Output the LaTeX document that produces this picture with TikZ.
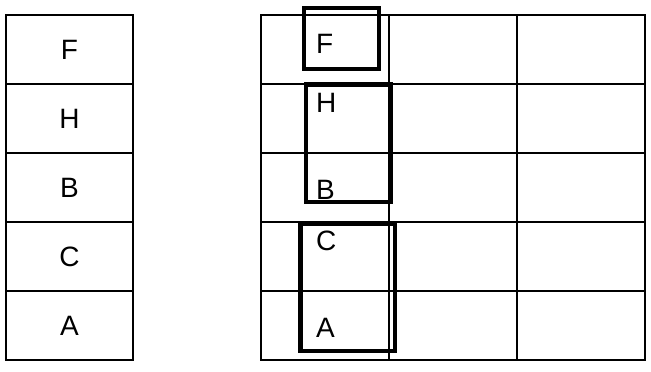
\documentclass[tikz,border=0pt]{standalone}
\usepackage{fontspec}
\setmainfont{Liberation Sans}
\usetikzlibrary{positioning}

\tikzset{
  cell/.style={draw,line width=2pt,minimum width=127pt,minimum height=69pt,
    inner sep=0pt,outer sep=0pt,font=\fontsize{28}{30}\selectfont},
  tag/.style={anchor=base west,inner sep=0pt,font=\fontsize{28}{30}\selectfont},
  frame/.style={line width=4.5pt}
}

\begin{document}
\begin{tikzpicture}[x=1pt,y=-1pt]
\useasboundingbox (0,0) rectangle (651,372);

% left column
\node[cell] at (69.5,49.5) (leftF) {F};
\node[cell,below=0pt of leftF] (leftH) {H};
\node[cell,below=0pt of leftH] (leftB) {B};
\node[cell,below=0pt of leftB] (leftC) {C};
\node[cell,below=0pt of leftC] (leftA) {A};

% right grid
\foreach \r in {0,...,4}
  \foreach \c in {0,1,2}
    \node[cell,minimum width=128pt] at (325+128*\c,49.5+69*\r) (grid-\r-\c) {};

% letters in the grid
\node[tag] at (316,53) (markF) {F};
\node[tag] at (316,112.5) (markH) {H};
\node[tag] at (316,199) (markB) {B};
\node[tag] at (316,250.5) (markC) {C};
\node[tag] at (316,337) (markA) {A};

% thick frames
\draw[frame] (304,8) rectangle (379,69);
\draw[frame] (306,84.5) rectangle (391,202);
\draw[frame] (300.5,224) rectangle (395,351);

\end{tikzpicture}
\end{document}
